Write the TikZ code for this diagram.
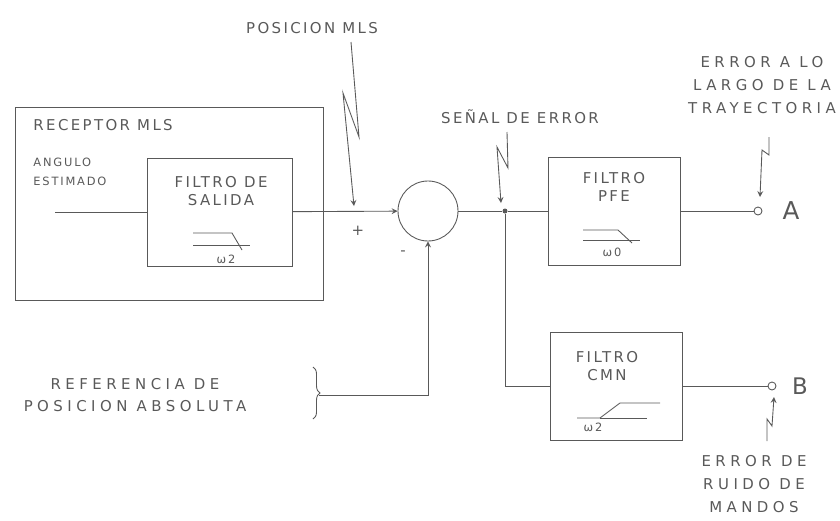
\documentclass[tikz,border=0pt]{standalone}
\usepackage{fontspec}
\setmainfont{DejaVu Sans}
\newfontfamily\sketchfont[LetterSpace=16]{DejaVu Sans}
\newfontfamily\sketchwide[LetterSpace=30]{DejaVu Sans}
\usetikzlibrary{decorations.pathreplacing}

\begin{document}
\begin{tikzpicture}[x=0.02cm,y=-0.02cm,>=stealth,color=black!65,line width=0.5pt,
  lbl/.style={font=\sketchfont\fontsize{8.5}{10}\selectfont, align=center, inner sep=0pt},
  lblwide/.style={font=\sketchwide\fontsize{8.5}{13}\selectfont, align=center, inner sep=0pt},
  lblsmall/.style={font=\sketchfont\fontsize{6.5}{10.5}\selectfont, align=left, inner sep=0pt},
  box/.style={draw, rectangle, inner sep=0pt},
  term/.style={draw, circle, minimum size=0.16cm, inner sep=0pt, fill=white}]
\useasboundingbox (0,0) rectangle (840,521);
% receptor
\node[box, minimum width=6.16cm, minimum height=3.86cm] (rx) at (169,203.5) {};
\node[lbl, anchor=west] (rxlbl) at (33,125) {RECEPTOR MLS};
\node[lblsmall, anchor=west] (ang) at (33,172) {ANGULO\\ESTIMADO};
\node[box, minimum width=2.9cm, minimum height=2.16cm] (sal) at (220,212) {};
\node[lbl] (sallbl) at (221,191) {FILTRO DE\\SALIDA};
\draw (193,233) -- (232,233) -- (242,250);
\draw (193,245) -- (250,245);
\node[lblsmall] (salw) at (226,259) {ω2};
\coordinate (in) at (55,212);
\draw (in) -- (sal);
% sumador
\node[draw, circle, minimum size=1.2cm, inner sep=0pt] (sum) at (428,211) {};
\draw[->] (sal) -- (sum);
\node[lbl] (pos) at (312,28) {POSICION MLS};
\coordinate (posz) at (351,42);
\coordinate (posin) at (354,206);
\draw[->] (posz) -- ++(8,95) -- ++(-16,-44) -- (posin);
\node[lbl] (plus) at (358,231) {+};
\node[lbl] (minus) at (403,253) {-};
% señal de error
\node[fill, circle, minimum size=0.1cm, inner sep=0pt] (jn) at (505,211) {};
\draw (sum) -- (jn);
\node[lbl] (se) at (520,117) {SEÑAL DE ERROR};
\coordinate (sez) at (507,132);
\coordinate (sein) at (501,203);
\draw[->] (sez) -- ++(1,36) -- ++(-11,-21) -- (sein);
% filtro PFE
\node[box, minimum width=2.64cm, minimum height=2.16cm] (pfe) at (614,211) {};
\node[lbl] (pfelbl) at (614,187) {FILTRO\\PFE};
\draw (583,230) -- (618,230) -- (632,243);
\draw (583,240) -- (640,240);
\node[lblsmall] (pfew) at (612,252) {ω0};
\draw (jn) -- (pfe);
\node[term] (ta) at (758,211) {};
\draw (pfe) -- (ta);
\node[font=\fontsize{14}{14}\selectfont, inner sep=0pt] (talbl) at (791,211) {A};
\node[lblwide] (ea) at (762,85) {ERROR A LO\\LARGO DE LA\\TRAYECTORIA};
\coordinate (eaz) at (769,137);
\coordinate (eain) at (760,197);
\draw[->] (eaz) -- ++(0,18) -- ++(-7,-5) -- (eain);
% filtro CMN
\node[box, minimum width=2.64cm, minimum height=2.16cm] (cmn) at (616,386) {};
\node[lbl] (cmnlbl) at (607,366) {FILTRO\\CMN};
\draw (577,418) -- (600,418) -- (620,403) -- (660,403);
\draw (600,418) -- (647,418);
\node[lblsmall] (cmnw) at (593,427) {ω2};
\draw (jn) |- (cmn);
\node[term] (tb) at (772,386) {};
\draw (cmn) -- (tb);
\node[font=\fontsize{13}{13}\selectfont, inner sep=0pt] (tblbl) at (800,386) {B};
\node[lblwide] (eb) at (754,484) {ERROR DE\\RUIDO DE\\MANDOS};
\coordinate (ebz) at (767,441);
\coordinate (ebin) at (774,397);
\draw[->] (ebz) -- ++(0,-22) -- ++(5,7) -- (ebin);
% referencia
\node[lblwide] (ref) at (135,395) {REFERENCIA DE\\POSICION ABSOLUTA};
\coordinate (bt) at (313,367);
\coordinate (bb) at (313,419);
\draw[decorate, decoration={brace, amplitude=4pt}] (bt) -- (bb);
\coordinate (bm) at (319,395);
\draw[->] (bm) -| (sum);
\end{tikzpicture}
\end{document}
